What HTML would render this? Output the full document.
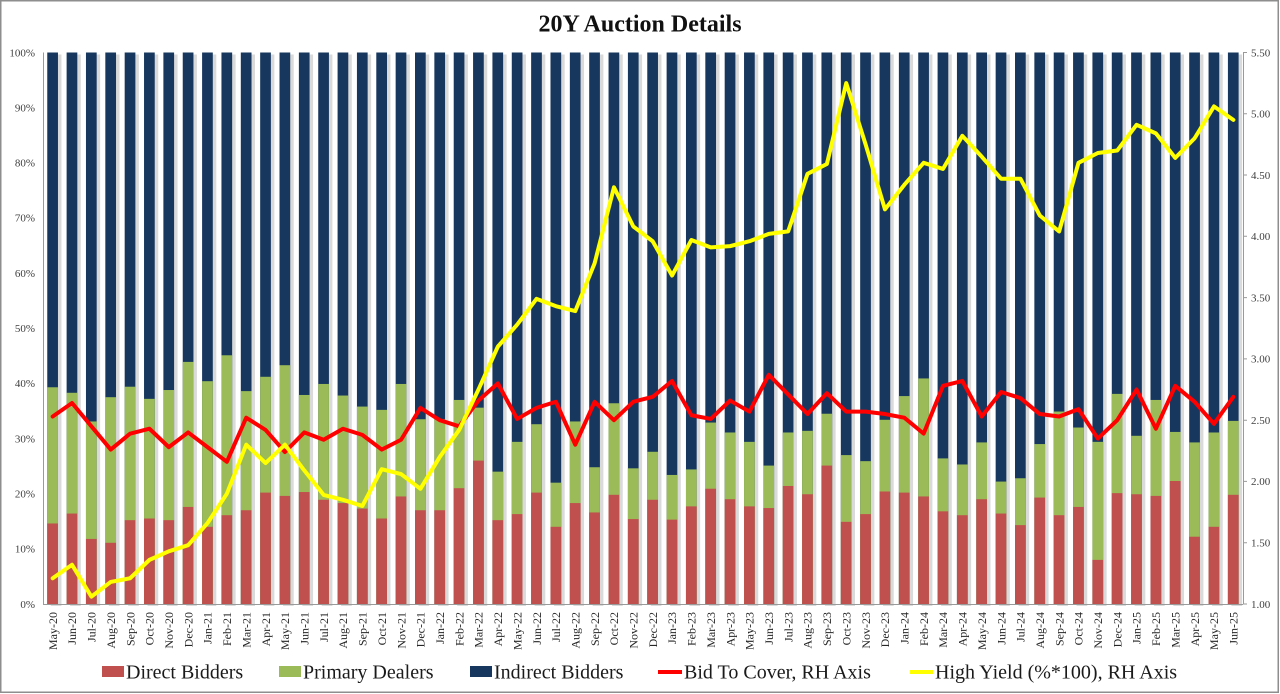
<!DOCTYPE html>
<html><head><meta charset="utf-8"><style>
html,body{margin:0;padding:0;background:#fff;}
svg{display:block;}
</style></head><body>
<svg width="1280" height="694" viewBox="0 0 1280 694" xmlns="http://www.w3.org/2000/svg" font-family="'Liberation Serif', 'Times New Roman', serif">
<rect x="0" y="0" width="1280" height="694" fill="#fff"/>
<rect x="0.75" y="0.75" width="1277.5" height="691.5" fill="none" stroke="#8e8e8e" stroke-width="1.5"/>
<text x="640" y="31.5" text-anchor="middle" font-size="24" font-weight="bold" fill="#111">20Y Auction Details</text>

<!-- bars -->
<g transform="translate(43,604) scale(19.355,-5.515)">
<g fill="#000" opacity="0.14">
<rect x="0.40" y="-0.36" width="0.553" height="100"/><rect x="1.40" y="-0.36" width="0.553" height="100"/><rect x="2.40" y="-0.36" width="0.553" height="100"/><rect x="3.40" y="-0.36" width="0.553" height="100"/><rect x="4.40" y="-0.36" width="0.553" height="100"/><rect x="5.40" y="-0.36" width="0.553" height="100"/><rect x="6.40" y="-0.36" width="0.553" height="100"/><rect x="7.40" y="-0.36" width="0.553" height="100"/><rect x="8.40" y="-0.36" width="0.553" height="100"/><rect x="9.40" y="-0.36" width="0.553" height="100"/>
<rect x="10.40" y="-0.36" width="0.553" height="100"/><rect x="11.40" y="-0.36" width="0.553" height="100"/><rect x="12.40" y="-0.36" width="0.553" height="100"/><rect x="13.40" y="-0.36" width="0.553" height="100"/><rect x="14.40" y="-0.36" width="0.553" height="100"/><rect x="15.40" y="-0.36" width="0.553" height="100"/><rect x="16.40" y="-0.36" width="0.553" height="100"/><rect x="17.40" y="-0.36" width="0.553" height="100"/><rect x="18.40" y="-0.36" width="0.553" height="100"/><rect x="19.40" y="-0.36" width="0.553" height="100"/>
<rect x="20.40" y="-0.36" width="0.553" height="100"/><rect x="21.40" y="-0.36" width="0.553" height="100"/><rect x="22.40" y="-0.36" width="0.553" height="100"/><rect x="23.40" y="-0.36" width="0.553" height="100"/><rect x="24.40" y="-0.36" width="0.553" height="100"/><rect x="25.40" y="-0.36" width="0.553" height="100"/><rect x="26.40" y="-0.36" width="0.553" height="100"/><rect x="27.40" y="-0.36" width="0.553" height="100"/><rect x="28.40" y="-0.36" width="0.553" height="100"/><rect x="29.40" y="-0.36" width="0.553" height="100"/>
<rect x="30.40" y="-0.36" width="0.553" height="100"/><rect x="31.40" y="-0.36" width="0.553" height="100"/><rect x="32.40" y="-0.36" width="0.553" height="100"/><rect x="33.40" y="-0.36" width="0.553" height="100"/><rect x="34.40" y="-0.36" width="0.553" height="100"/><rect x="35.40" y="-0.36" width="0.553" height="100"/><rect x="36.40" y="-0.36" width="0.553" height="100"/><rect x="37.40" y="-0.36" width="0.553" height="100"/><rect x="38.40" y="-0.36" width="0.553" height="100"/><rect x="39.40" y="-0.36" width="0.553" height="100"/>
<rect x="40.40" y="-0.36" width="0.553" height="100"/><rect x="41.40" y="-0.36" width="0.553" height="100"/><rect x="42.40" y="-0.36" width="0.553" height="100"/><rect x="43.40" y="-0.36" width="0.553" height="100"/><rect x="44.40" y="-0.36" width="0.553" height="100"/><rect x="45.40" y="-0.36" width="0.553" height="100"/><rect x="46.40" y="-0.36" width="0.553" height="100"/><rect x="47.40" y="-0.36" width="0.553" height="100"/><rect x="48.40" y="-0.36" width="0.553" height="100"/><rect x="49.40" y="-0.36" width="0.553" height="100"/>
<rect x="50.40" y="-0.36" width="0.553" height="100"/><rect x="51.40" y="-0.36" width="0.553" height="100"/><rect x="52.40" y="-0.36" width="0.553" height="100"/><rect x="53.40" y="-0.36" width="0.553" height="100"/><rect x="54.40" y="-0.36" width="0.553" height="100"/><rect x="55.40" y="-0.36" width="0.553" height="100"/><rect x="56.40" y="-0.36" width="0.553" height="100"/><rect x="57.40" y="-0.36" width="0.553" height="100"/><rect x="58.40" y="-0.36" width="0.553" height="100"/><rect x="59.40" y="-0.36" width="0.553" height="100"/>
<rect x="60.40" y="-0.36" width="0.553" height="100"/><rect x="61.40" y="-0.36" width="0.553" height="100"/>
</g>
<g fill="#17375E">
<rect x="0.22" width="0.553" height="100"/><rect x="1.22" width="0.553" height="100"/><rect x="2.22" width="0.553" height="100"/><rect x="3.22" width="0.553" height="100"/><rect x="4.22" width="0.553" height="100"/><rect x="5.22" width="0.553" height="100"/><rect x="6.22" width="0.553" height="100"/><rect x="7.22" width="0.553" height="100"/><rect x="8.22" width="0.553" height="100"/><rect x="9.22" width="0.553" height="100"/>
<rect x="10.22" width="0.553" height="100"/><rect x="11.22" width="0.553" height="100"/><rect x="12.22" width="0.553" height="100"/><rect x="13.22" width="0.553" height="100"/><rect x="14.22" width="0.553" height="100"/><rect x="15.22" width="0.553" height="100"/><rect x="16.22" width="0.553" height="100"/><rect x="17.22" width="0.553" height="100"/><rect x="18.22" width="0.553" height="100"/><rect x="19.22" width="0.553" height="100"/>
<rect x="20.22" width="0.553" height="100"/><rect x="21.22" width="0.553" height="100"/><rect x="22.22" width="0.553" height="100"/><rect x="23.22" width="0.553" height="100"/><rect x="24.22" width="0.553" height="100"/><rect x="25.22" width="0.553" height="100"/><rect x="26.22" width="0.553" height="100"/><rect x="27.22" width="0.553" height="100"/><rect x="28.22" width="0.553" height="100"/><rect x="29.22" width="0.553" height="100"/>
<rect x="30.22" width="0.553" height="100"/><rect x="31.22" width="0.553" height="100"/><rect x="32.22" width="0.553" height="100"/><rect x="33.22" width="0.553" height="100"/><rect x="34.22" width="0.553" height="100"/><rect x="35.22" width="0.553" height="100"/><rect x="36.22" width="0.553" height="100"/><rect x="37.22" width="0.553" height="100"/><rect x="38.22" width="0.553" height="100"/><rect x="39.22" width="0.553" height="100"/>
<rect x="40.22" width="0.553" height="100"/><rect x="41.22" width="0.553" height="100"/><rect x="42.22" width="0.553" height="100"/><rect x="43.22" width="0.553" height="100"/><rect x="44.22" width="0.553" height="100"/><rect x="45.22" width="0.553" height="100"/><rect x="46.22" width="0.553" height="100"/><rect x="47.22" width="0.553" height="100"/><rect x="48.22" width="0.553" height="100"/><rect x="49.22" width="0.553" height="100"/>
<rect x="50.22" width="0.553" height="100"/><rect x="51.22" width="0.553" height="100"/><rect x="52.22" width="0.553" height="100"/><rect x="53.22" width="0.553" height="100"/><rect x="54.22" width="0.553" height="100"/><rect x="55.22" width="0.553" height="100"/><rect x="56.22" width="0.553" height="100"/><rect x="57.22" width="0.553" height="100"/><rect x="58.22" width="0.553" height="100"/><rect x="59.22" width="0.553" height="100"/>
<rect x="60.22" width="0.553" height="100"/><rect x="61.22" width="0.553" height="100"/>
</g>
<g fill="#9BBB59">
<rect x="0.22" width="0.553" height="39.3"/><rect x="1.22" width="0.553" height="38.3"/><rect x="2.22" width="0.553" height="33.1"/><rect x="3.22" width="0.553" height="37.5"/><rect x="4.22" width="0.553" height="39.4"/><rect x="5.22" width="0.553" height="37.2"/><rect x="6.22" width="0.553" height="38.8"/><rect x="7.22" width="0.553" height="43.9"/><rect x="8.22" width="0.553" height="40.4"/><rect x="9.22" width="0.553" height="45.1"/>
<rect x="10.22" width="0.553" height="38.6"/><rect x="11.22" width="0.553" height="41.2"/><rect x="12.22" width="0.553" height="43.3"/><rect x="13.22" width="0.553" height="37.9"/><rect x="14.22" width="0.553" height="39.9"/><rect x="15.22" width="0.553" height="37.8"/><rect x="16.22" width="0.553" height="35.8"/><rect x="17.22" width="0.553" height="35.2"/><rect x="18.22" width="0.553" height="39.9"/><rect x="19.22" width="0.553" height="33.5"/>
<rect x="20.22" width="0.553" height="33.5"/><rect x="21.22" width="0.553" height="37.0"/><rect x="22.22" width="0.553" height="35.6"/><rect x="23.22" width="0.553" height="24.0"/><rect x="24.22" width="0.553" height="29.4"/><rect x="25.22" width="0.553" height="32.6"/><rect x="26.22" width="0.553" height="22.0"/><rect x="27.22" width="0.553" height="33.1"/><rect x="28.22" width="0.553" height="24.8"/><rect x="29.22" width="0.553" height="36.4"/>
<rect x="30.22" width="0.553" height="24.6"/><rect x="31.22" width="0.553" height="27.6"/><rect x="32.22" width="0.553" height="23.4"/><rect x="33.22" width="0.553" height="24.4"/><rect x="34.22" width="0.553" height="32.9"/><rect x="35.22" width="0.553" height="31.1"/><rect x="36.22" width="0.553" height="29.4"/><rect x="37.22" width="0.553" height="25.1"/><rect x="38.22" width="0.553" height="31.1"/><rect x="39.22" width="0.553" height="31.4"/>
<rect x="40.22" width="0.553" height="34.5"/><rect x="41.22" width="0.553" height="27.0"/><rect x="42.22" width="0.553" height="25.9"/><rect x="43.22" width="0.553" height="33.4"/><rect x="44.22" width="0.553" height="37.7"/><rect x="45.22" width="0.553" height="40.9"/><rect x="46.22" width="0.553" height="26.4"/><rect x="47.22" width="0.553" height="25.3"/><rect x="48.22" width="0.553" height="29.3"/><rect x="49.22" width="0.553" height="22.2"/>
<rect x="50.22" width="0.553" height="22.8"/><rect x="51.22" width="0.553" height="29.0"/><rect x="52.22" width="0.553" height="34.9"/><rect x="53.22" width="0.553" height="32.0"/><rect x="54.22" width="0.553" height="29.4"/><rect x="55.22" width="0.553" height="38.1"/><rect x="56.22" width="0.553" height="30.5"/><rect x="57.22" width="0.553" height="37.0"/><rect x="58.22" width="0.553" height="31.2"/><rect x="59.22" width="0.553" height="29.3"/>
<rect x="60.22" width="0.553" height="31.1"/><rect x="61.22" width="0.553" height="33.2"/>
</g>
<g fill="#C0504D">
<rect x="0.22" width="0.553" height="14.6"/><rect x="1.22" width="0.553" height="16.4"/><rect x="2.22" width="0.553" height="11.8"/><rect x="3.22" width="0.553" height="11.1"/><rect x="4.22" width="0.553" height="15.2"/><rect x="5.22" width="0.553" height="15.5"/><rect x="6.22" width="0.553" height="15.2"/><rect x="7.22" width="0.553" height="17.6"/><rect x="8.22" width="0.553" height="14.0"/><rect x="9.22" width="0.553" height="16.1"/>
<rect x="10.22" width="0.553" height="17.0"/><rect x="11.22" width="0.553" height="20.2"/><rect x="12.22" width="0.553" height="19.6"/><rect x="13.22" width="0.553" height="20.3"/><rect x="14.22" width="0.553" height="18.9"/><rect x="15.22" width="0.553" height="18.3"/><rect x="16.22" width="0.553" height="17.3"/><rect x="17.22" width="0.553" height="15.5"/><rect x="18.22" width="0.553" height="19.5"/><rect x="19.22" width="0.553" height="17.0"/>
<rect x="20.22" width="0.553" height="17.0"/><rect x="21.22" width="0.553" height="21.0"/><rect x="22.22" width="0.553" height="26.0"/><rect x="23.22" width="0.553" height="15.2"/><rect x="24.22" width="0.553" height="16.3"/><rect x="25.22" width="0.553" height="20.2"/><rect x="26.22" width="0.553" height="14.0"/><rect x="27.22" width="0.553" height="18.3"/><rect x="28.22" width="0.553" height="16.6"/><rect x="29.22" width="0.553" height="19.8"/>
<rect x="30.22" width="0.553" height="15.4"/><rect x="31.22" width="0.553" height="18.9"/><rect x="32.22" width="0.553" height="15.3"/><rect x="33.22" width="0.553" height="17.7"/><rect x="34.22" width="0.553" height="20.9"/><rect x="35.22" width="0.553" height="19.0"/><rect x="36.22" width="0.553" height="17.7"/><rect x="37.22" width="0.553" height="17.4"/><rect x="38.22" width="0.553" height="21.4"/><rect x="39.22" width="0.553" height="19.9"/>
<rect x="40.22" width="0.553" height="25.1"/><rect x="41.22" width="0.553" height="14.9"/><rect x="42.22" width="0.553" height="16.3"/><rect x="43.22" width="0.553" height="20.4"/><rect x="44.22" width="0.553" height="20.2"/><rect x="45.22" width="0.553" height="19.5"/><rect x="46.22" width="0.553" height="16.8"/><rect x="47.22" width="0.553" height="16.1"/><rect x="48.22" width="0.553" height="19.0"/><rect x="49.22" width="0.553" height="16.4"/>
<rect x="50.22" width="0.553" height="14.3"/><rect x="51.22" width="0.553" height="19.3"/><rect x="52.22" width="0.553" height="16.1"/><rect x="53.22" width="0.553" height="17.6"/><rect x="54.22" width="0.553" height="8.0"/><rect x="55.22" width="0.553" height="20.1"/><rect x="56.22" width="0.553" height="19.9"/><rect x="57.22" width="0.553" height="19.6"/><rect x="58.22" width="0.553" height="22.3"/><rect x="59.22" width="0.553" height="12.2"/>
<rect x="60.22" width="0.553" height="14.0"/><rect x="61.22" width="0.553" height="19.8"/>
</g>
</g>

<!-- axes -->
<g stroke="#9a9a9a" stroke-width="1" fill="none">
<line x1="43.5" y1="52.5" x2="43.5" y2="604.5"/>
<line x1="43" y1="604.5" x2="1243" y2="604.5"/>
<line x1="1243.5" y1="52.5" x2="1243.5" y2="604.5"/>
<path d="M1243 52.5h4M1243 113.8h4M1243 175h4M1243 236.3h4M1243 297.6h4M1243 358.9h4M1243 420.2h4M1243 481.4h4M1243 542.7h4M1243 604h4"/>
</g>

<!-- lines -->
<g transform="translate(43,726.56) scale(19.355,-122.56)" fill="none" stroke-linejoin="round" stroke-linecap="round">
<polyline vector-effect="non-scaling-stroke" stroke="#FF0000" stroke-width="4" points="0.5,2.53 1.5,2.64 2.5,2.45 3.5,2.26 4.5,2.39 5.5,2.43 6.5,2.28 7.5,2.40 8.5,2.28 9.5,2.16 10.5,2.52 11.5,2.42 12.5,2.24 13.5,2.40 14.5,2.34 15.5,2.43 16.5,2.38 17.5,2.26 18.5,2.34 19.5,2.60 20.5,2.50 21.5,2.45 22.5,2.66 23.5,2.80 24.5,2.51 25.5,2.60 26.5,2.65 27.5,2.30 28.5,2.65 29.5,2.50 30.5,2.65 31.5,2.69 32.5,2.82 33.5,2.54 34.5,2.51 35.5,2.66 36.5,2.57 37.5,2.87 38.5,2.71 39.5,2.55 40.5,2.72 41.5,2.57 42.5,2.57 43.5,2.55 44.5,2.52 45.5,2.39 46.5,2.78 47.5,2.82 48.5,2.53 49.5,2.73 50.5,2.68 51.5,2.55 52.5,2.53 53.5,2.59 54.5,2.35 55.5,2.50 56.5,2.75 57.5,2.43 58.5,2.78 59.5,2.65 60.5,2.47 61.5,2.69"/>
<polyline vector-effect="non-scaling-stroke" stroke="#FFFF00" stroke-width="4" points="0.5,1.21 1.5,1.32 2.5,1.06 3.5,1.18 4.5,1.21 5.5,1.36 6.5,1.43 7.5,1.48 8.5,1.66 9.5,1.90 10.5,2.30 11.5,2.15 12.5,2.30 13.5,2.09 14.5,1.89 15.5,1.85 16.5,1.80 17.5,2.10 18.5,2.06 19.5,1.94 20.5,2.20 21.5,2.42 22.5,2.75 23.5,3.10 24.5,3.28 25.5,3.49 26.5,3.43 27.5,3.39 28.5,3.78 29.5,4.40 30.5,4.08 31.5,3.96 32.5,3.68 33.5,3.97 34.5,3.91 35.5,3.92 36.5,3.96 37.5,4.02 38.5,4.04 39.5,4.51 40.5,4.59 41.5,5.25 42.5,4.75 43.5,4.22 44.5,4.42 45.5,4.60 46.5,4.55 47.5,4.82 48.5,4.65 49.5,4.47 50.5,4.47 51.5,4.17 52.5,4.04 53.5,4.60 54.5,4.68 55.5,4.70 56.5,4.91 57.5,4.84 58.5,4.64 59.5,4.80 60.5,5.06 61.5,4.95"/>
</g>

<!-- left axis labels -->
<g font-size="11" fill="#404040" text-anchor="end">
<text x="35" y="607.8">0%</text>
<text x="35" y="552.6">10%</text>
<text x="35" y="497.5">20%</text>
<text x="35" y="442.3">30%</text>
<text x="35" y="387.2">40%</text>
<text x="35" y="332">50%</text>
<text x="35" y="276.9">60%</text>
<text x="35" y="221.7">70%</text>
<text x="35" y="166.6">80%</text>
<text x="35" y="111.4">90%</text>
<text x="35" y="56.3">100%</text>
</g>
<!-- right axis labels -->
<g font-size="11" fill="#404040">
<text x="1251" y="607.8">1.00</text>
<text x="1251" y="546.5">1.50</text>
<text x="1251" y="485.2">2.00</text>
<text x="1251" y="424">2.50</text>
<text x="1251" y="362.7">3.00</text>
<text x="1251" y="301.4">3.50</text>
<text x="1251" y="240.1">4.00</text>
<text x="1251" y="178.8">4.50</text>
<text x="1251" y="117.6">5.00</text>
<text x="1251" y="56.3">5.50</text>
</g>

<!-- x labels -->
<g font-size="12" fill="#262626" text-anchor="end">
<text transform="translate(56.9,612) rotate(-90)">May-20</text>
<text transform="translate(76.2,612) rotate(-90)">Jun-20</text>
<text transform="translate(95.6,612) rotate(-90)">Jul-20</text>
<text transform="translate(114.9,612) rotate(-90)">Aug-20</text>
<text transform="translate(134.3,612) rotate(-90)">Sep-20</text>
<text transform="translate(153.7,612) rotate(-90)">Oct-20</text>
<text transform="translate(173,612) rotate(-90)">Nov-20</text>
<text transform="translate(192.4,612) rotate(-90)">Dec-20</text>
<text transform="translate(211.7,612) rotate(-90)">Jan-21</text>
<text transform="translate(231.1,612) rotate(-90)">Feb-21</text>
<text transform="translate(250.4,612) rotate(-90)">Mar-21</text>
<text transform="translate(269.8,612) rotate(-90)">Apr-21</text>
<text transform="translate(289.2,612) rotate(-90)">May-21</text>
<text transform="translate(308.5,612) rotate(-90)">Jun-21</text>
<text transform="translate(327.9,612) rotate(-90)">Jul-21</text>
<text transform="translate(347.2,612) rotate(-90)">Aug-21</text>
<text transform="translate(366.6,612) rotate(-90)">Sep-21</text>
<text transform="translate(385.9,612) rotate(-90)">Oct-21</text>
<text transform="translate(405.3,612) rotate(-90)">Nov-21</text>
<text transform="translate(424.6,612) rotate(-90)">Dec-21</text>
<text transform="translate(444,612) rotate(-90)">Jan-22</text>
<text transform="translate(463.3,612) rotate(-90)">Feb-22</text>
<text transform="translate(482.7,612) rotate(-90)">Mar-22</text>
<text transform="translate(502,612) rotate(-90)">Apr-22</text>
<text transform="translate(521.4,612) rotate(-90)">May-22</text>
<text transform="translate(540.8,612) rotate(-90)">Jun-22</text>
<text transform="translate(560.1,612) rotate(-90)">Jul-22</text>
<text transform="translate(579.5,612) rotate(-90)">Aug-22</text>
<text transform="translate(598.8,612) rotate(-90)">Sep-22</text>
<text transform="translate(618.2,612) rotate(-90)">Oct-22</text>
<text transform="translate(637.5,612) rotate(-90)">Nov-22</text>
<text transform="translate(656.9,612) rotate(-90)">Dec-22</text>
<text transform="translate(676.2,612) rotate(-90)">Jan-23</text>
<text transform="translate(695.6,612) rotate(-90)">Feb-23</text>
<text transform="translate(714.9,612) rotate(-90)">Mar-23</text>
<text transform="translate(734.3,612) rotate(-90)">Apr-23</text>
<text transform="translate(753.7,612) rotate(-90)">May-23</text>
<text transform="translate(773,612) rotate(-90)">Jun-23</text>
<text transform="translate(792.4,612) rotate(-90)">Jul-23</text>
<text transform="translate(811.7,612) rotate(-90)">Aug-23</text>
<text transform="translate(831.1,612) rotate(-90)">Sep-23</text>
<text transform="translate(850.4,612) rotate(-90)">Oct-23</text>
<text transform="translate(869.8,612) rotate(-90)">Nov-23</text>
<text transform="translate(889.1,612) rotate(-90)">Dec-23</text>
<text transform="translate(908.5,612) rotate(-90)">Jan-24</text>
<text transform="translate(927.8,612) rotate(-90)">Feb-24</text>
<text transform="translate(947.2,612) rotate(-90)">Mar-24</text>
<text transform="translate(966.6,612) rotate(-90)">Apr-24</text>
<text transform="translate(985.9,612) rotate(-90)">May-24</text>
<text transform="translate(1005.3,612) rotate(-90)">Jun-24</text>
<text transform="translate(1024.6,612) rotate(-90)">Jul-24</text>
<text transform="translate(1044,612) rotate(-90)">Aug-24</text>
<text transform="translate(1063.3,612) rotate(-90)">Sep-24</text>
<text transform="translate(1082.7,612) rotate(-90)">Oct-24</text>
<text transform="translate(1102,612) rotate(-90)">Nov-24</text>
<text transform="translate(1121.4,612) rotate(-90)">Dec-24</text>
<text transform="translate(1140.7,612) rotate(-90)">Jan-25</text>
<text transform="translate(1160.1,612) rotate(-90)">Feb-25</text>
<text transform="translate(1179.5,612) rotate(-90)">Mar-25</text>
<text transform="translate(1198.8,612) rotate(-90)">Apr-25</text>
<text transform="translate(1218.2,612) rotate(-90)">May-25</text>
<text transform="translate(1237.5,612) rotate(-90)">Jun-25</text>
</g>

<!-- legend -->
<rect x="102" y="666" width="22" height="11" fill="#C0504D"/>
<rect x="279" y="666" width="22" height="11" fill="#9BBB59"/>
<rect x="470" y="666" width="22" height="11" fill="#17375E"/>
<line x1="658" y1="672" x2="682" y2="672" stroke="#FF0000" stroke-width="4"/>
<line x1="910" y1="672" x2="933" y2="672" stroke="#FFFF00" stroke-width="4"/>
<g font-size="20" fill="#1a1a1a">
<text x="126" y="678.5">Direct Bidders</text>
<text x="303" y="678.5">Primary Dealers</text>
<text x="494" y="678.5">Indirect Bidders</text>
<text x="684" y="678.5">Bid To Cover, RH Axis</text>
<text x="935" y="678.5">High Yield (%*100), RH Axis</text>
</g>
</svg>
</body></html>
